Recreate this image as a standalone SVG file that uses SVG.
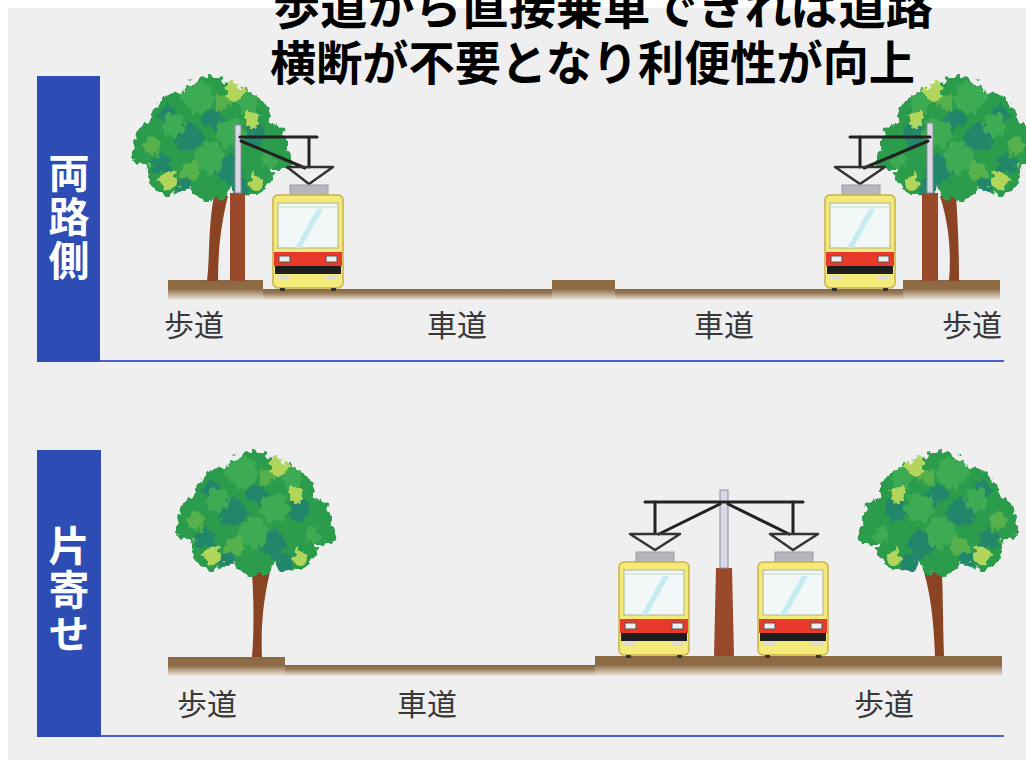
<svg xmlns="http://www.w3.org/2000/svg" xmlns:xlink="http://www.w3.org/1999/xlink" width="1026" height="760" viewBox="0 0 1026 760">
  <style>
    .title { font-family: "Noto Sans CJK JP", "Noto Sans", sans-serif; font-weight: 700; font-size: 47px; fill: #000; }
    .side { font-family: "Noto Sans CJK JP", "Noto Sans", sans-serif; font-weight: 700; font-size: 41px; fill: #fff; writing-mode: vertical-rl; letter-spacing: 3px; }
    .lbl { font-family: "Noto Sans CJK JP", "Noto Sans", sans-serif; font-size: 30px; fill: #383838; }
    .panel { fill: #2d4db4; }
    .rule { stroke: #4a5fd2; stroke-width: 2; }
    .wire { stroke: #222; stroke-width: 3; fill: none; stroke-linecap: round; }
    .panto { stroke: #333; stroke-width: 2.5; fill: none; stroke-linejoin: round; }
    .mast { fill: #d9d9e6; stroke: #8a8aa2; stroke-width: 1; }
    .base { fill: #9a4a2a; }
    .trunk { fill: #8a4424; }
    .walk { fill: url(#walkGrad); }
    .road { fill: url(#roadGrad); }
  </style>
  <defs>
    <linearGradient id="walkGrad" x1="0" y1="0" x2="0" y2="1">
      <stop offset="0" stop-color="#8a6842"/>
      <stop offset="0.45" stop-color="#8d6c47"/>
      <stop offset="1" stop-color="#eee8df"/>
    </linearGradient>
    <linearGradient id="roadGrad" x1="0" y1="0" x2="0" y2="1">
      <stop offset="0" stop-color="#86643e"/>
      <stop offset="0.4" stop-color="#9a7d5a"/>
      <stop offset="1" stop-color="#eee8df"/>
    </linearGradient>
    <filter id="leafy" x="-10%" y="-10%" width="120%" height="120%">
      <feTurbulence type="fractalNoise" baseFrequency="0.14" numOctaves="2" seed="7"/>
      <feDisplacementMap in="SourceGraphic" scale="13" xChannelSelector="R" yChannelSelector="G"/>
    </filter>
    <!-- leafy tree crown, about 166 x 130 -->
    <g id="crown" filter="url(#leafy)">
      <g fill="#2c9c4c">
        <circle cx="82" cy="34" r="32"/>
        <circle cx="52" cy="44" r="28"/>
        <circle cx="114" cy="44" r="28"/>
        <circle cx="30" cy="70" r="24"/>
        <circle cx="136" cy="70" r="24"/>
        <circle cx="60" cy="78" r="32"/>
        <circle cx="106" cy="78" r="32"/>
        <circle cx="82" cy="62" r="38"/>
        <circle cx="40" cy="100" r="20"/>
        <circle cx="124" cy="100" r="20"/>
        <circle cx="82" cy="104" r="22"/>
        <circle cx="14" cy="78" r="11"/>
        <circle cx="152" cy="84" r="11"/>
      </g>
      <g fill="#24876a">
        <circle cx="60" cy="62" r="14"/>
        <circle cx="100" cy="94" r="14"/>
        <circle cx="126" cy="60" r="11"/>
        <circle cx="34" cy="88" r="10"/>
        <circle cx="84" cy="44" r="10"/>
        <circle cx="112" cy="112" r="9"/>
        <circle cx="56" cy="110" r="8"/>
        <circle cx="40" cy="40" r="9"/>
      </g>
      <g fill="#3dab52">
        <circle cx="70" cy="22" r="15"/>
        <circle cx="102" cy="58" r="14"/>
        <circle cx="46" cy="50" r="11"/>
        <circle cx="82" cy="84" r="15"/>
        <circle cx="140" cy="86" r="9"/>
        <circle cx="120" cy="28" r="10"/>
      </g>
      <g fill="#57b04c">
        <circle cx="62" cy="96" r="10"/>
        <circle cx="24" cy="70" r="9"/>
        <circle cx="94" cy="28" r="8"/>
      </g>
      <g fill="#b2d65c">
        <circle cx="106" cy="17" r="9"/>
        <circle cx="40" cy="106" r="9"/>
        <circle cx="124" cy="44" r="8"/>
        <circle cx="128" cy="108" r="7"/>
      </g>
    </g>
    <!-- tram seen from the front; origin at body top-left -->
    <g id="tram">
      <rect x="17" y="-10" width="38" height="10" fill="#b6b6be" stroke="#9a9aa4" stroke-width="1"/>
      <rect x="0" y="0" width="70" height="93" rx="5" fill="#f3ea7a" stroke="#c9b24a" stroke-width="1.5"/>
      <rect x="5" y="8" width="60" height="45" fill="#f2f8f8" stroke="#b0b08a" stroke-width="1"/>
      <line x1="6" y1="12" x2="64" y2="12" stroke="#c9d6c0" stroke-width="1"/>
      <polygon points="22,53 44,14 50,14 28,53" fill="#c6ecf2"/>
      <rect x="1" y="57" width="68" height="14" fill="#e8392a"/>
      <rect x="6" y="61" width="11" height="6" fill="#eeeeee" stroke="#555" stroke-width="1"/>
      <rect x="53" y="61" width="11" height="6" fill="#eeeeee" stroke="#555" stroke-width="1"/>
      <rect x="2" y="71" width="66" height="8" fill="#1e1e1e"/>
      <rect x="5" y="80" width="12" height="4" fill="#dcdcd0"/>
      <rect x="53" y="80" width="12" height="4" fill="#dcdcd0"/>
      <rect x="7" y="93" width="5" height="3" fill="#333"/>
      <rect x="58" y="93" width="5" height="3" fill="#333"/>
    </g>
  </defs>

  <!-- backdrop -->
  <rect x="8" y="8" width="1018" height="752" fill="#efefef"/>

  <g id="title">
    <text class="title"><tspan x="273" y="24" textLength="660" lengthAdjust="spacingAndGlyphs">歩道から直接乗車できれば道路</tspan><tspan x="270" y="80" textLength="645" lengthAdjust="spacingAndGlyphs">横断が不要となり利便性が向上</tspan></text>
  </g>

  <!-- upper cross-section: stops on both road sides -->
  <g id="panel-both-sides">
    <rect class="panel" x="37" y="76" width="63" height="286"/>
    <text class="side" x="69" y="152">両路側</text>
    <line class="rule" x1="100" y1="361" x2="1004" y2="361"/>
  </g>

  <g id="scene-both-sides">
    <g id="ground-top">
      <rect class="road" x="168" y="289" width="832" height="11"/>
      <rect class="walk" x="168" y="280" width="95" height="20"/>
      <rect class="walk" x="552" y="280" width="63" height="20"/>
      <rect class="walk" x="903" y="280" width="97" height="20"/>
    </g>
    <g id="tree-top-left">
      <path class="trunk" d="M214,196 C208,228 210,255 207,281 L218,281 C218,255 220,228 228,196 Z"/>
      <use xlink:href="#crown" transform="translate(128,75)"/>
    </g>
    <g id="tree-top-right">
      <path class="trunk" d="M940,196 C950,228 951,255 949,281 L959,281 C959,250 958,225 956,196 Z"/>
      <use xlink:href="#crown" transform="translate(1040,75) scale(-1,1)"/>
    </g>
    <g id="mast-top-left">
      <rect class="base" x="230" y="193" width="15" height="88"/>
      <rect class="mast" x="235" y="125" width="6" height="68"/>
      <line class="wire" x1="240" y1="137" x2="317" y2="137"/>
      <line class="wire" x1="309" y1="137" x2="309" y2="167"/>
      <line class="wire" x1="241" y1="141" x2="305" y2="168"/>
      <path class="panto" d="M287,167 L333,167 L309,184 Z"/>
    </g>
    <g id="mast-top-right">
      <rect class="base" x="922" y="193" width="16" height="88"/>
      <rect class="mast" x="927" y="123" width="6" height="70"/>
      <line class="wire" x1="850" y1="137" x2="930" y2="137"/>
      <line class="wire" x1="860" y1="137" x2="860" y2="167"/>
      <line class="wire" x1="928" y1="141" x2="864" y2="168"/>
      <path class="panto" d="M835,167 L885,167 L860,184 Z"/>
    </g>
    <use id="tram-top-left" xlink:href="#tram" transform="translate(273,195)"/>
    <use id="tram-top-right" xlink:href="#tram" transform="translate(825,195)"/>
    <g id="labels-top">
      <text class="lbl" x="164" y="336">歩道</text>
      <text class="lbl" x="427" y="336">車道</text>
      <text class="lbl" x="694" y="336">車道</text>
      <text class="lbl" x="942" y="336">歩道</text>
    </g>
  </g>

  <!-- lower cross-section: both tracks on one side -->
  <g id="panel-one-side">
    <rect class="panel" x="37" y="450" width="64" height="287"/>
    <text class="side" x="69" y="525">片寄せ</text>
    <line class="rule" x1="101" y1="736" x2="1004" y2="736"/>
  </g>

  <g id="scene-one-side">
    <g id="ground-bottom">
      <rect class="road" x="168" y="665" width="834" height="11"/>
      <rect class="walk" x="168" y="657" width="117" height="19"/>
      <rect class="walk" x="595" y="656" width="407" height="20"/>
    </g>
    <g id="tree-bottom-left">
      <path class="trunk" d="M252,572 C254,605 254,632 252,657 L262,657 C261,632 262,605 270,572 Z"/>
      <use xlink:href="#crown" transform="translate(172,450)"/>
    </g>
    <g id="tree-bottom-right">
      <path class="trunk" d="M924,572 C932,600 934,630 935,656 L944,656 C943,625 943,600 942,572 Z"/>
      <use xlink:href="#crown" transform="translate(1022,450) scale(-1,1)"/>
    </g>
    <g id="mast-bottom">
      <path class="base" d="M716,568 L732,568 L734,656 L714,656 Z"/>
      <rect class="mast" x="720" y="490" width="8" height="78"/>
      <line class="wire" x1="645" y1="502" x2="803" y2="502"/>
      <line class="wire" x1="655" y1="502" x2="655" y2="533"/>
      <line class="wire" x1="720" y1="504" x2="659" y2="534"/>
      <path class="panto" d="M630,534 L680,534 L655,550 Z"/>
      <line class="wire" x1="793" y1="502" x2="793" y2="533"/>
      <line class="wire" x1="728" y1="504" x2="789" y2="534"/>
      <path class="panto" d="M770,534 L818,534 L793,550 Z"/>
    </g>
    <use id="tram-bottom-left" xlink:href="#tram" transform="translate(619,562)"/>
    <use id="tram-bottom-right" xlink:href="#tram" transform="translate(758,562)"/>
    <g id="labels-bottom">
      <text class="lbl" x="177" y="715">歩道</text>
      <text class="lbl" x="397" y="715">車道</text>
      <text class="lbl" x="854" y="715">歩道</text>
    </g>
  </g>
</svg>
